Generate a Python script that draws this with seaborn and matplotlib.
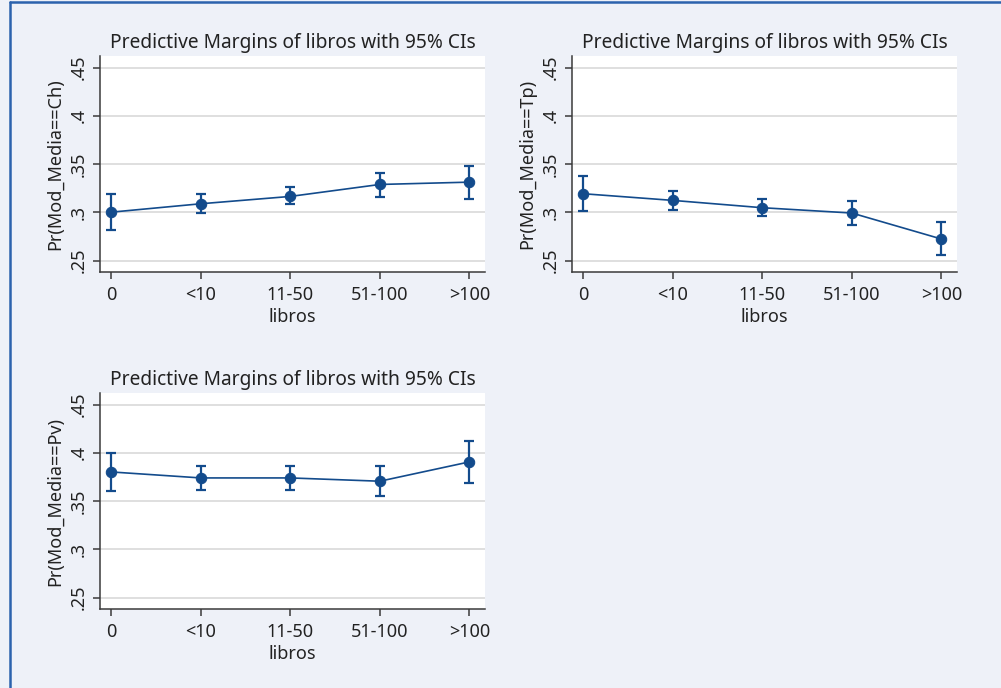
import matplotlib
matplotlib.use("Agg")
import matplotlib.pyplot as plt
import seaborn as sns
import numpy as np
import pandas as pd

categories = ["0", "<10", "11-50", "51-100", ">100"]

ch_margin = [0.3003, 0.3090, 0.3166, 0.3290, 0.3314]
ch_lower = [0.2815, 0.2993, 0.3083, 0.3160, 0.3139]
ch_upper = [0.3190, 0.3190, 0.3259, 0.3410, 0.3485]

tp_margin = [0.3194, 0.3125, 0.3049, 0.2994, 0.2725]
tp_lower = [0.3011, 0.3029, 0.2963, 0.2866, 0.2555]
tp_upper = [0.3380, 0.3225, 0.3139, 0.3115, 0.2897]

pv_margin = [0.3803, 0.3741, 0.3741, 0.3707, 0.3907]
pv_lower = [0.3610, 0.3614, 0.3617, 0.3552, 0.3690]
pv_upper = [0.4000, 0.3869, 0.3869, 0.3869, 0.4128]

y_ticks = [0.25, 0.30, 0.35, 0.40, 0.45]
y_tick_labels = [".25", ".3", ".35", ".4", ".45"]

title_text = "Predictive Margins of libros with 95% CIs"
x_label = "libros"
y_labels = ["Pr(Mod_Media==Ch)", "Pr(Mod_Media==Tp)", "Pr(Mod_Media==Pv)"]

sns.set_style("white")
plt.rcParams["font.family"] = ["Noto Sans", "DejaVu Sans"]

W, H = 1001, 688
BG = "#eef1f8"
NAVY = "#134b8c"
TXT = "#222222"
fig = plt.figure(figsize=(W / 100, H / 100), dpi=100, facecolor=BG)

def px_axes(x0, y0, x1, y1):
    return fig.add_axes([x0 / W, 1 - y1 / H, (x1 - x0) / W, (y1 - y0) / H])

panels = [
    ((100, 56, 485, 272), ch_margin, ch_lower, ch_upper, y_labels[0]),
    ((572, 56, 957, 272), tp_margin, tp_lower, tp_upper, y_labels[1]),
    ((100, 393, 485, 609), pv_margin, pv_lower, pv_upper, y_labels[2]),
]

for box, m, lo, hi, ylab in panels:
    ax = px_axes(*box)
    ax.set_facecolor("white")
    idx = np.arange(len(categories))
    df = pd.DataFrame({"pos": idx, "margin": m})
    m_arr = np.array(m)
    yerr = np.vstack([m_arr - np.array(lo), np.array(hi) - m_arr])
    ax.errorbar(idx, m_arr, yerr=yerr, fmt="none", ecolor=NAVY, elinewidth=1.6,
                capsize=3.5, capthick=1.6, zorder=3)
    sns.lineplot(data=df, x="pos", y="margin", ax=ax, color=NAVY, linewidth=1.2,
                 marker="o", markersize=7.5, markeredgecolor=NAVY, zorder=4)
    ax.set_xlim(-0.126, 4.175)
    ax.set_ylim(0.2383, 0.4621)
    ax.set_xticks(idx)
    ax.set_xticklabels(categories)
    ax.set_yticks(y_ticks)
    ax.set_yticklabels(y_tick_labels, rotation=90, va="center")
    ax.grid(axis="y", color="#d6d6d6", linewidth=1.1)
    ax.grid(axis="x", visible=False)
    for s in ["top", "right"]:
        ax.spines[s].set_visible(False)
    for s in ["left", "bottom"]:
        ax.spines[s].set_color("#3a3a3a")
        ax.spines[s].set_linewidth(1.1)
    ax.tick_params(axis="both", which="major", direction="out", length=5, width=1.1,
                   color="#3a3a3a", labelsize=13, labelcolor=TXT, pad=4,
                   bottom=True, left=True)
    ax.tick_params(axis="x", pad=5)
    ax.set_xlabel(x_label, fontsize=13, color=TXT, labelpad=3)
    ax.set_ylabel(ylab, fontsize=13, color=TXT, labelpad=4)
    ax.set_title(title_text, fontsize=13.8, color=TXT, pad=6)

# figure border (left and top)
fig.add_artist(plt.Line2D([9.5 / W, 9.5 / W], [0, 1 - 1.5 / H], color="#2b62ad", linewidth=1.8))
fig.add_artist(plt.Line2D([9.5 / W, 1], [1 - 1.5 / H, 1 - 1.5 / H], color="#2b62ad", linewidth=1.8))

fig.savefig("out.png", dpi=100, facecolor=BG)
